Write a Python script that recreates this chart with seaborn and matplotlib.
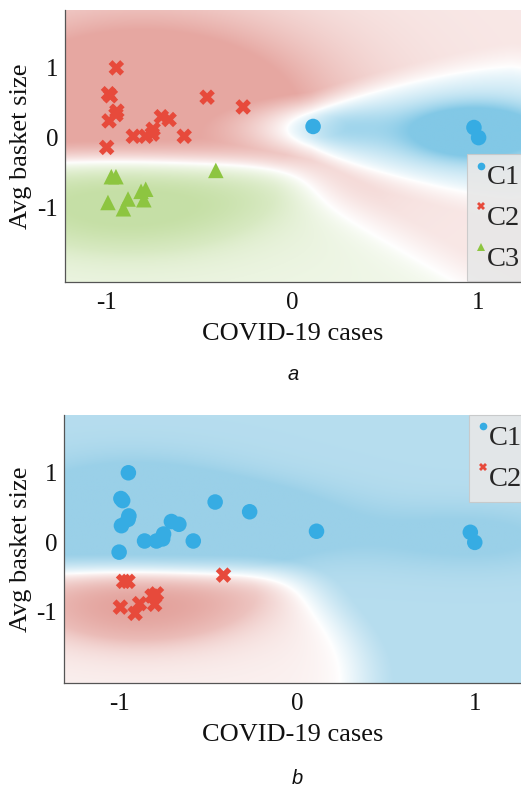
import numpy as np
import pandas as pd
import seaborn as sns
import matplotlib
matplotlib.use("Agg")
import matplotlib.pyplot as plt
from matplotlib.lines import Line2D
from matplotlib.legend_handler import HandlerLine2D
from matplotlib.ticker import MultipleLocator

# ---------------- data ----------------
covid_cases = [-0.948, -0.99, -0.98, -0.945, -0.95, -0.987, -1.0, -0.857, -0.79,
               -0.75, -0.755, -0.706, -0.664, -0.583, -0.46, -0.266,
               0.11, 0.975, 1.0,
               -0.975, -0.95, -0.993, -0.91, -0.885, -0.815, -0.79, -0.80, -0.413]
basket_size = [1.0, 0.63, 0.60, 0.38, 0.33, 0.24, -0.14, 0.02, 0.02,
               0.12, 0.05, 0.30, 0.26, 0.02, 0.58, 0.44,
               0.16, 0.145, 0.0,
               -0.56, -0.56, -0.93, -1.02, -0.88, -0.77, -0.74, -0.89, -0.47]
clusters_a = ["C2", "C2", "C2", "C2", "C2", "C2", "C2", "C2", "C2",
              "C2", "C2", "C2", "C2", "C2", "C2", "C2",
              "C1", "C1", "C1",
              "C3", "C3", "C3", "C3", "C3", "C3", "C3", "C3", "C3"]
clusters_b = ["C1", "C1", "C1", "C1", "C1", "C1", "C1", "C1", "C1",
              "C1", "C1", "C1", "C1", "C1", "C1", "C1",
              "C1", "C1", "C1",
              "C2", "C2", "C2", "C2", "C2", "C2", "C2", "C2", "C2"]
x_ticks = [-1, 0, 1]
y_ticks = [-1, 0, 1]
panel_tags = ["a", "b"]

df = pd.DataFrame({"covid": covid_cases, "basket": basket_size,
                   "ka": clusters_a, "kb": clusters_b})

# ---------------- style ----------------
BLUE, RED, GREEN = "#36ACE3", "#E74A3B", "#8DC540"
SERIF = ["Liberation Serif", "DejaVu Serif"]
sns.set_style("white")
plt.rcParams["font.family"] = SERIF

W, H = 521, 789
fig = plt.figure(figsize=(W / 100, H / 100), dpi=100)
ax_a = fig.add_axes([65 / W, 1 - 282 / H, 456 / W, 272 / H])
ax_b = fig.add_axes([64 / W, 1 - 683 / H, 457 / W, 268 / H])
xlim_a, ylim_a = (-1.224, 1.228), (-2.07, 1.83)
xlim_b, ylim_b = (-1.31, 1.26), (-2.02, 1.83)


def kernel(X, Y, px, py, sx, sy):
    K = np.zeros_like(X)
    for a, b in zip(px, py):
        K += np.exp(-0.5 * (((X - a) / sx) ** 2 + ((Y - b) / sy) ** 2))
    return K


def sig(z):
    return 1.0 / (1.0 + np.exp(-z))


def softmin(a, b, k=6.0):
    return -np.logaddexp(-k * a, -k * b) / k


def grid(xlim, ylim):
    gx = np.linspace(xlim[0], xlim[1], 360)
    gy = np.linspace(ylim[0], ylim[1], 260)
    return np.meshgrid(gx, gy)


def render(scores, strengths, cols, gamma=0.8, scale=0.75):
    S = np.stack(scores)
    P = S / S.sum(axis=0)
    order = np.sort(P, axis=0)
    margin = np.clip((order[-1] - order[-2]) / scale, 0, 1)
    win = np.argmax(P, axis=0)
    strength = np.choose(win, strengths)
    alpha = margin ** gamma * strength
    C = np.array([matplotlib.colors.to_rgb(c) for c in cols])[win]
    return 1 - alpha[..., None] * (1 - C)


def pts(col, lab):
    sub = df[df[col] == lab]
    return sub["covid"].values, sub["basket"].values


# ---------- panel a background ----------
X, Y = grid(xlim_a, ylim_a)
rx, ry = pts("ka", "C2"); gx_, gy_ = pts("ka", "C3"); bx, by = pts("ka", "C1")
Kr = kernel(X, Y, rx, ry, 0.42, 0.36)
Kg = kernel(X, Y, gx_, gy_, 0.33, 0.33)
sy_b = 0.22 + 0.18 * np.clip((X - 0.1) / 0.9, 0, 1.2)
Kb = kernel(X, Y, bx, by, 0.40, sy_b)
half_g = sig(9 * softmin((-0.8 - 1.7 * X - 1.1 * Y) / 2.03, -0.3 - Y))
Sr = 0.3 + 0.45 * Kr
Sg = 0.5 * Kg + 0.6 * half_g
Sb = 1.6 * Kb
str_r = 0.25 + 0.7 * np.clip(kernel(X, Y, rx, ry, 0.6, 0.9) / 6.0, 0, 1)
str_g = 0.5 + 0.45 * np.clip(kernel(X, Y, gx_, gy_, 0.6, 0.7) / 4.0, 0, 1)
str_b = 0.4 + 0.6 * np.clip(kernel(X, Y, bx, by, 0.25, 0.25) / 0.8, 0, 1)
img_a = render([Sb, Sr, Sg], [str_b, str_r, str_g],
               ["#82C8E6", "#E5A39D", "#C3DEA2"])
ax_a.imshow(img_a, extent=[*xlim_a, *ylim_a], origin="lower", aspect="auto",
            interpolation="bilinear", zorder=0)

# ---------- panel b background ----------
X, Y = grid(xlim_b, ylim_b)
bx, by = pts("kb", "C1"); rx, ry = pts("kb", "C2")
Kb = kernel(X, Y, bx, by, 0.4, 0.3)
Kr = kernel(X, Y, rx, ry, 0.3, 0.3)
edge_x = -0.438 - 0.719 * Y - 0.18 * Y ** 2
half_r = sig(9 * softmin(edge_x - X, -0.32 - Y))
Sb = 0.35 + 0.6 * Kb
Sr = 0.3 * Kr + 0.6 * half_r
str_b = 0.72 + 0.28 * np.clip(Kb / 1.5, 0, 1)
str_r = 0.35 + 0.65 * np.clip(kernel(X, Y, rx, ry, 0.5, 0.5) / 4.0, 0, 1)
img_b = render([Sb, Sr], [str_b, str_r], ["#9AD0E8", "#E3A19B"])
ax_b.imshow(img_b, extent=[*xlim_b, *ylim_b], origin="lower", aspect="auto",
            interpolation="bilinear", zorder=0)

# ---------- scatter ----------
sns.scatterplot(data=df, x="covid", y="basket", hue="ka", style="ka",
                palette={"C1": BLUE, "C2": RED, "C3": GREEN},
                markers={"C1": "o", "C2": "X", "C3": "^"},
                s=125, linewidth=0, legend=False, ax=ax_a, zorder=3)
sns.scatterplot(data=df, x="covid", y="basket", hue="kb", style="kb",
                palette={"C1": BLUE, "C2": RED},
                markers={"C1": "o", "C2": "X"},
                s=125, linewidth=0, legend=False, ax=ax_b, zorder=3)


class HighHandler(HandlerLine2D):
    def create_artists(self, legend, orig_handle, xdescent, ydescent,
                       width, height, fontsize, trans):
        return super().create_artists(legend, orig_handle, xdescent,
                                      ydescent - 0.85 * height, width, height,
                                      fontsize, trans)


def add_legend(ax, labels, cols, marks, anchor):
    handles = [Line2D([], [], ls="none", marker=m, color=c, markersize=5.5,
                      markeredgewidth=0) for c, m in zip(cols, marks)]
    leg = ax.legend(handles, labels, loc="upper left", bbox_to_anchor=anchor,
                    borderaxespad=0, frameon=True, fancybox=False,
                    handlelength=0.3, handletextpad=0.05,
                    labelspacing=0.52, borderpad=0.35,
                    handler_map={Line2D: HighHandler()},
                    prop={"family": SERIF, "size": 20.5})
    fr = leg.get_frame()
    fr.set_facecolor("#E8E8E8")
    fr.set_edgecolor("#C8C8C8")
    fr.set_alpha(0.9)
    fr.set_linewidth(0.8)


add_legend(ax_a, ["C1", "C2", "C3"], [BLUE, RED, GREEN], ["o", "X", "^"], (0.882, 0.47))
add_legend(ax_b, ["C1", "C2"], [BLUE, RED], ["o", "X"], (0.886, 1.0))

for ax, xl, yl in [(ax_a, xlim_a, ylim_a), (ax_b, xlim_b, ylim_b)]:
    ax.set_xlim(*xl)
    ax.set_ylim(*yl)
    ax.set_xticks(x_ticks)
    ax.set_yticks(y_ticks)
    ax.set_xticklabels([str(t) for t in x_ticks])
    ax.set_yticklabels([str(t) for t in y_ticks])
    ax.xaxis.set_minor_locator(MultipleLocator(0.2))
    ax.yaxis.set_minor_locator(MultipleLocator(0.2))
    ax.tick_params(which="both", direction="in", colors="#777777",
                   labelcolor="#111111", labelsize=18)
    ax.tick_params(which="major", length=4, width=0.8, pad=5)
    ax.tick_params(which="minor", length=2.5, width=0.6)
    ax.tick_params(axis="x", which="major", pad=7)
    for sp in ["top", "right"]:
        ax.spines[sp].set_visible(False)
    for sp in ["left", "bottom"]:
        ax.spines[sp].set_color("#555555")
        ax.spines[sp].set_linewidth(0.9)
    ax.set_xlabel("COVID-19 cases", fontsize=19, color="#111111", labelpad=7)
    ax.set_ylabel("Avg basket size", fontsize=19, color="#111111")

ax_a.yaxis.set_label_coords(-0.072, 0.5)
ax_b.yaxis.set_label_coords(-0.070, 0.5)

fig.text(293 / W, 1 - 374 / H, panel_tags[0], ha="center", va="center",
         fontsize=14.5, style="italic", family=["Liberation Sans", "DejaVu Sans"], color="#111111")
fig.text(297 / W, 1 - 778 / H, panel_tags[1], ha="center", va="center",
         fontsize=14.5, style="italic", family=["Liberation Sans", "DejaVu Sans"], color="#111111")

fig.savefig("out.png", dpi=100)
